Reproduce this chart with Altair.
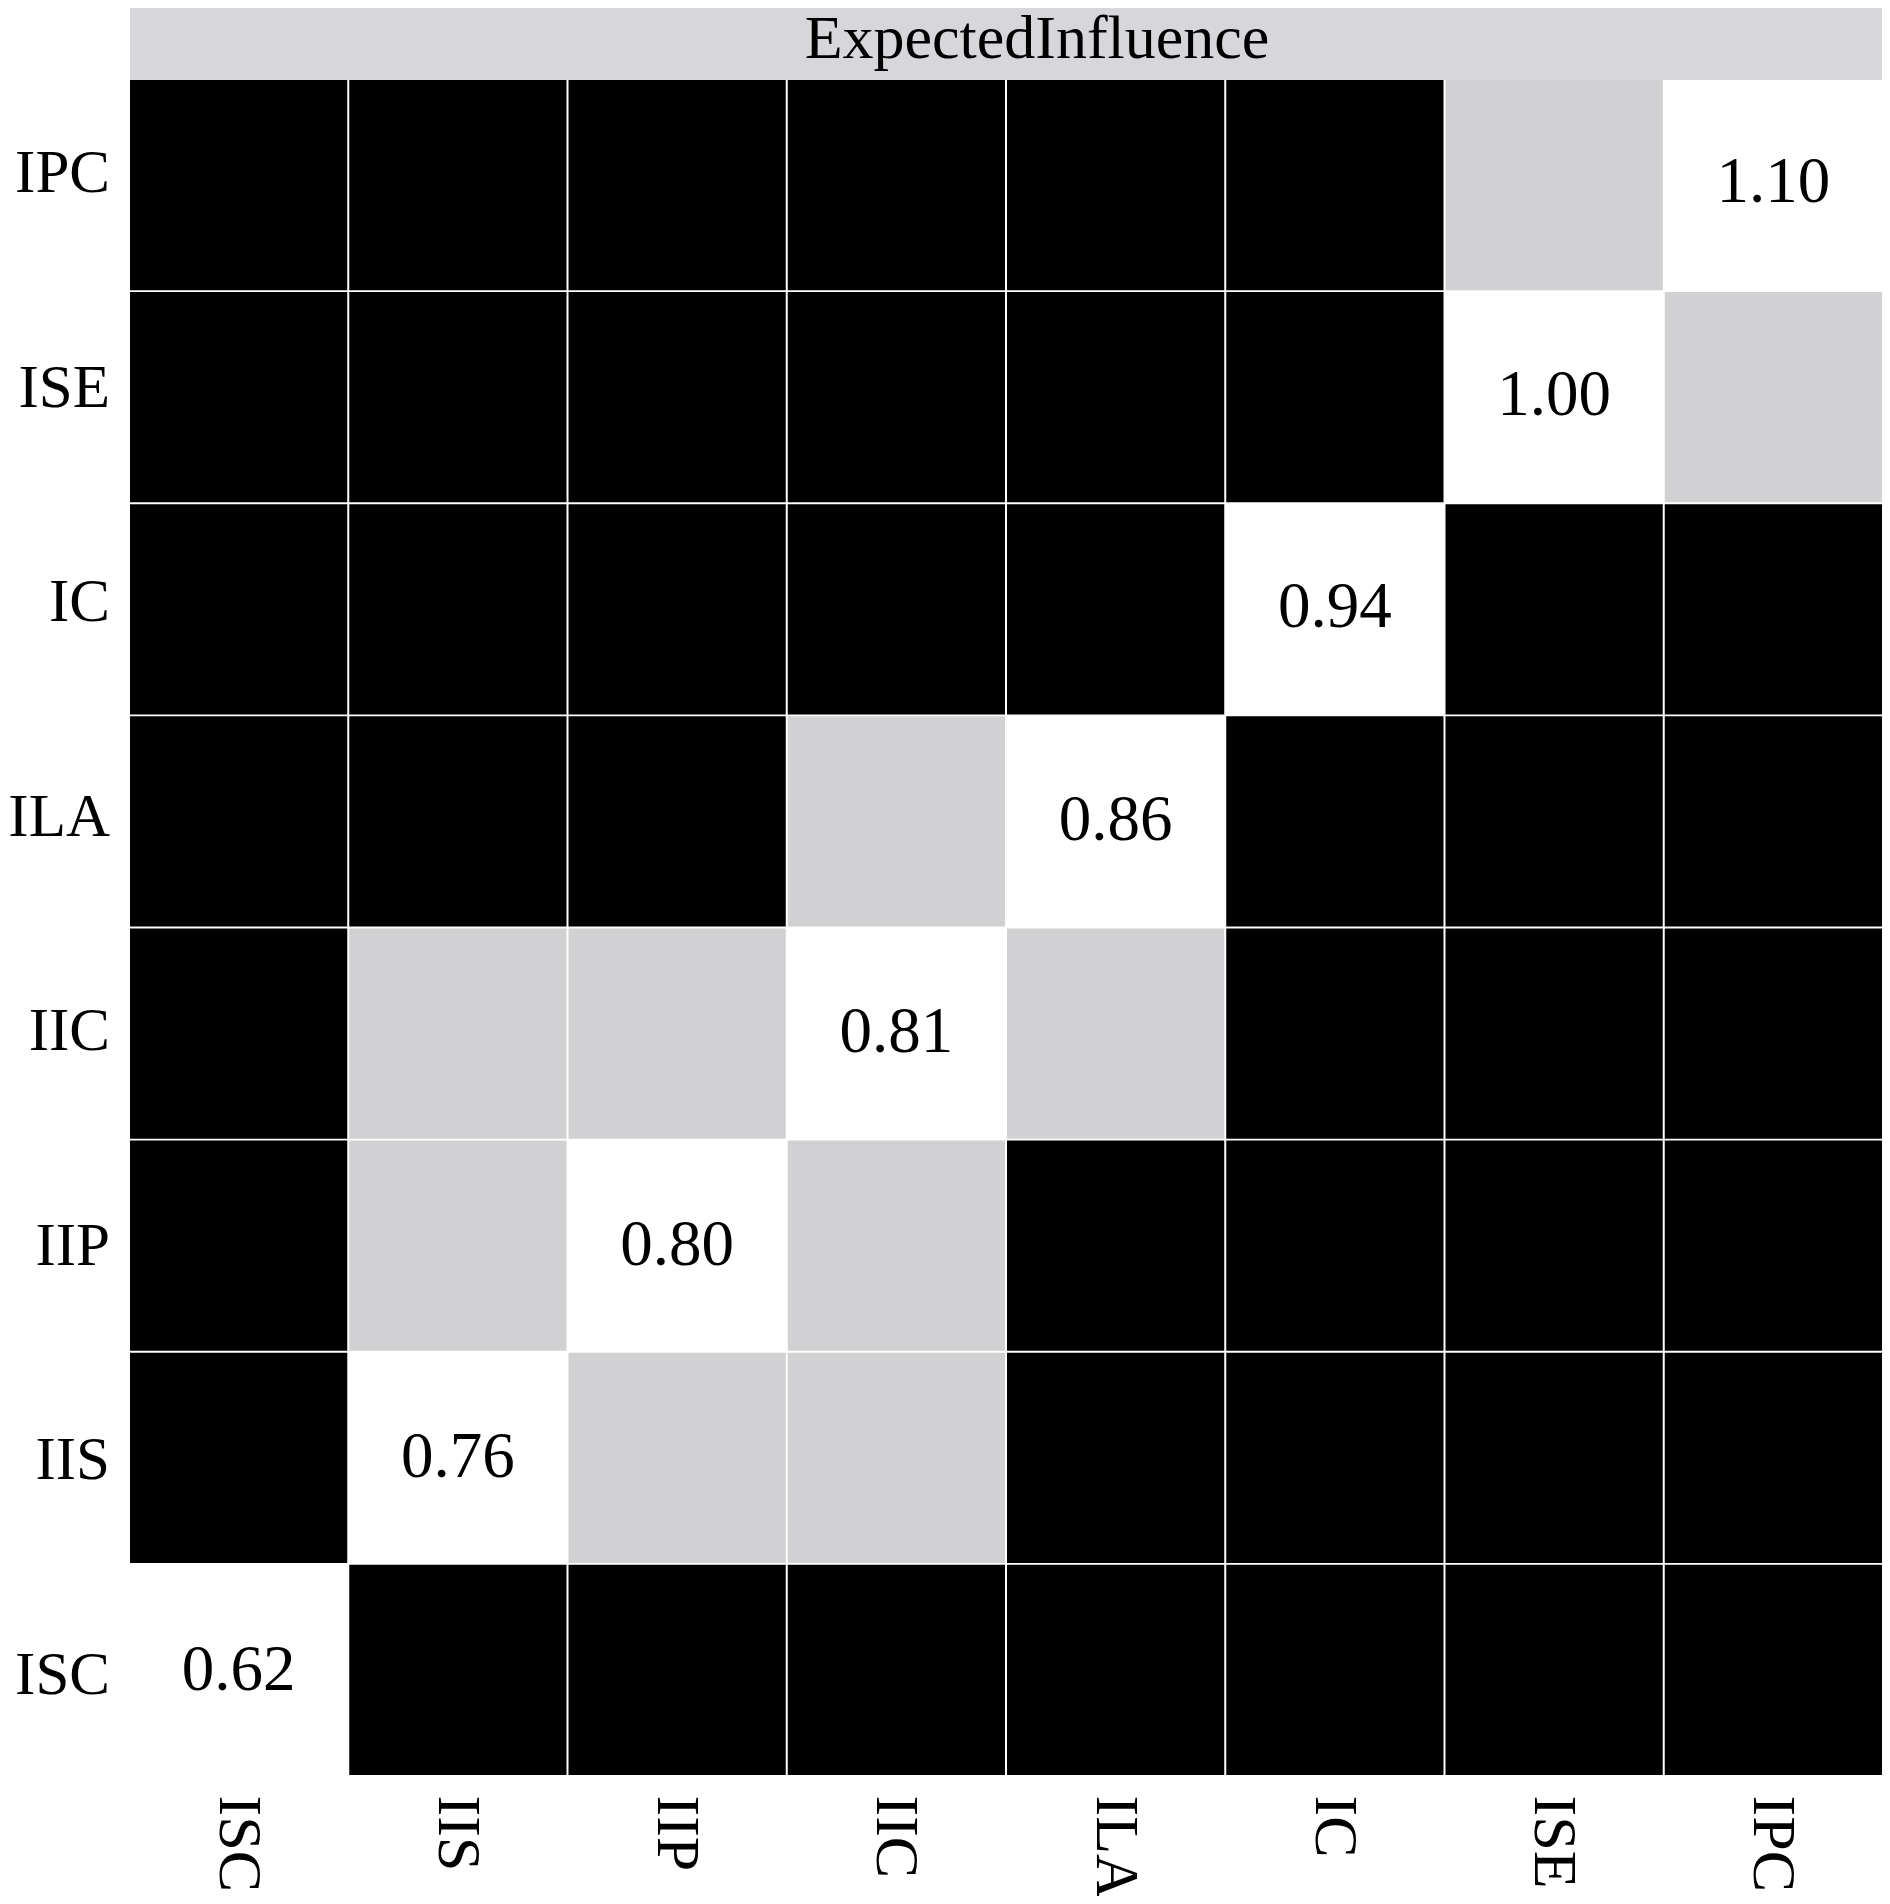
import altair as alt
import pandas as pd

# ---- data ----
nodes = ["ISC", "IIS", "IIP", "IIC", "ILA", "IC", "ISE", "IPC"]
ei_values = [0.62, 0.76, 0.80, 0.81, 0.86, 0.94, 1.00, 1.10]
# pairs whose difference is NOT significant (grey cells)
nonsig_pairs = [("IPC", "ISE"), ("ILA", "IIC"), ("IIC", "IIS"), ("IIC", "IIP"), ("IIP", "IIS")]
panel_title = ["ExpectedInfluence"]

nonsig = set()
for a, b in nonsig_pairs:
    nonsig.add((a, b))
    nonsig.add((b, a))

rows = []
for xi, xn in enumerate(nodes):
    for yi, yn in enumerate(nodes):
        if xn == yn:
            status = "diag"
            label = f"{ei_values[xi]:.2f}"
        elif (xn, yn) in nonsig:
            status = "nonsig"
            label = ""
        else:
            status = "sig"
            label = ""
        rows.append({"x": xn, "y": yn, "status": status, "label": label})
cells = pd.DataFrame(rows)
diag = cells[cells["status"] == "diag"]
header = pd.DataFrame({"title": panel_title})
ylab = pd.DataFrame({"node": nodes})

W, H = 1752, 1695
FONT = "Liberation Serif"
ydomain = list(reversed(nodes))

xscale = alt.Scale(domain=nodes, paddingInner=0.0091, paddingOuter=0)
yscale = alt.Scale(domain=ydomain, paddingInner=0.0094, paddingOuter=0)

xaxis = alt.Axis(title=None, labelAngle=90, labelAlign="left", labelBaseline="middle",
                 ticks=False, domain=False, labelPadding=20, labelFont=FONT,
                 labelFontSize=62, labelColor="black", grid=False)

rects = alt.Chart(cells).mark_rect().encode(
    x=alt.X("x:N", scale=xscale, axis=xaxis),
    y=alt.Y("y:N", scale=yscale, axis=None),
    color=alt.Color("status:N",
                    scale=alt.Scale(domain=["diag", "nonsig", "sig"],
                                    range=["#ffffff", "#d1d1d3", "#000000"]),
                    legend=None),
)

texts = alt.Chart(diag).mark_text(font=FONT, fontSize=65, color="black",
                                  baseline="alphabetic", align="center").encode(
    x=alt.X("x:N", scale=xscale, axis=xaxis),
    y=alt.Y("y:N", scale=alt.Scale(type="point", domain=ydomain, range=[122, 1610], padding=0),
            axis=None),
    text="label:N",
)

ylabels = alt.Chart(ylab).mark_text(font=FONT, fontSize=61, color="black",
                                    baseline="alphabetic", align="right").encode(
    x=alt.value(-20),
    y=alt.Y("node:N", scale=alt.Scale(type="point", domain=ydomain, range=[112, 1614], padding=0),
            axis=None),
    text="node:N",
)

head_rect = alt.Chart(header).mark_rect(color="#d7d6da").encode(
    x=alt.value(0), x2=alt.value(W), y=alt.value(-80), y2=alt.value(0)
)
head_text = alt.Chart(header).mark_text(font=FONT, fontSize=62, color="black",
                                        align="center", baseline="alphabetic").encode(
    x=alt.value(907), y=alt.value(-22), text="title:N"
)

chart = alt.layer(rects, texts, ylabels, head_rect, head_text).resolve_scale(
    y="independent"
).properties(
    width=W, height=H,
    autosize=alt.AutoSizeParams(type="none"),
    padding={"left": 122, "top": 72, "right": 0, "bottom": 121},
    background="white",
).configure_view(stroke=None)

chart.save("out.html", embed_options={"renderer": "svg", "actions": False})
